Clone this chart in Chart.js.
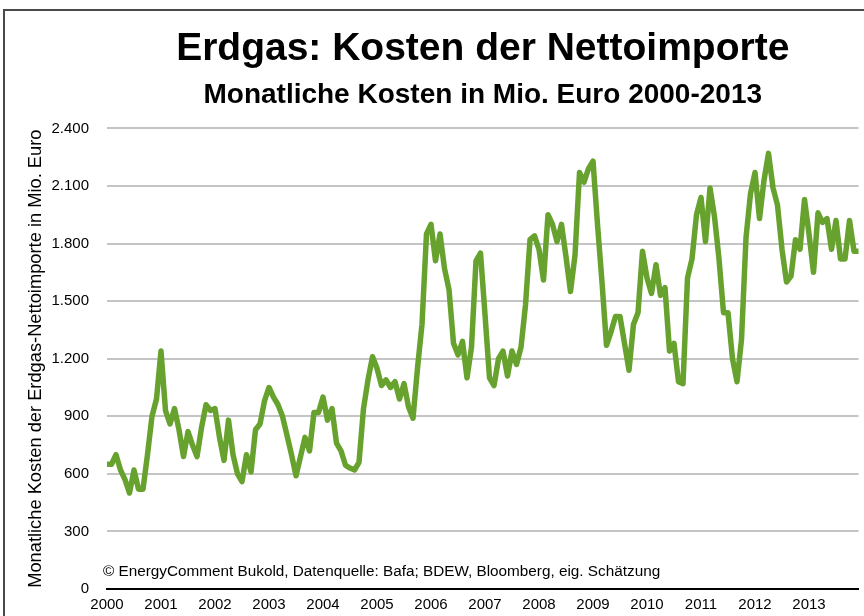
<!DOCTYPE html>
<html>
<head>
<meta charset="utf-8">
<script src="https://cdn.jsdelivr.net/npm/chart.js@4.4.1/dist/chart.umd.min.js"></script>
<style>
  html, body { margin: 0; padding: 0; background: #fff; }
  #wrap { position: relative; width: 864px; height: 616px; overflow: hidden; }
  #frame {
    position: absolute; left: 3px; top: 9px; width: 1000px; height: 1000px;
    border-top: 2px solid #4a4a4a; border-left: 2px solid #4a4a4a;
    pointer-events: none;
  }
</style>
</head>
<body>
<div id="wrap">
  <canvas id="chart" width="864" height="616"></canvas>
  <div id="frame"></div>
</div>
<script>
// Jahre (Achsenbeschriftung)
const years = ["2000", "2001", "2002", "2003", "2004", "2005", "2006",
  "2007", "2008", "2009", "2010", "2011", "2012", "2013"];

// Monatswerte in Mio. Euro, je Jahr Jan..Dez
const v2000 = [650, 650, 700, 620, 570, 500, 620, 520, 520, 700, 900, 990];
const v2001 = [1240, 930, 860, 940, 830, 690, 820, 750, 690, 840, 960, 930];
const v2002 = [940, 790, 670, 880, 700, 600, 560, 700, 610, 830, 860, 980];
const v2003 = [1050, 1000, 960, 900, 800, 700, 590, 690, 790, 720, 920, 920];
const v2004 = [1000, 880, 940, 760, 720, 645, 630, 620, 660, 940, 1090, 1210];
const v2005 = [1150, 1060, 1090, 1050, 1080, 990, 1070, 950, 890, 1150, 1380, 1850];
const v2006 = [1900, 1710, 1850, 1670, 1560, 1280, 1220, 1290, 1100, 1260, 1710, 1750];
const v2007 = [1430, 1100, 1060, 1200, 1240, 1110, 1240, 1170, 1260, 1480, 1820, 1840];
const v2008 = [1770, 1610, 1950, 1900, 1810, 1900, 1730, 1550, 1740, 2170, 2120, 2190];
const v2009 = [2230, 1900, 1600, 1270, 1340, 1420, 1420, 1280, 1140, 1380, 1440, 1760];
const v2010 = [1620, 1540, 1690, 1530, 1570, 1240, 1280, 1080, 1070, 1620, 1720, 1950];
const v2011 = [2040, 1810, 2090, 1940, 1720, 1440, 1440, 1200, 1080, 1300, 1830, 2060];
const v2012 = [2170, 1930, 2130, 2270, 2090, 2000, 1770, 1600, 1630, 1820, 1770, 2030];
const v2013 = [1850, 1650, 1960, 1910, 1930, 1770, 1920, 1720, 1720, 1920, 1760, 1760];

// y-Achse
const yTickValues = [0, 300, 600, 900, 1200, 1500, 1800, 2100, 2400];

const titleText = "Erdgas: Kosten der Nettoimporte";
const subtitleText = "Monatliche Kosten in Mio. Euro 2000-2013";
const yTitleText = "Monatliche Kosten der Erdgas-Nettoimporte in Mio. Euro";
const sourceNote = "\u00A9 EnergyComment Bukold, Datenquelle: Bafa; BDEW, Bloomberg, eig. Sch\u00E4tzung";

const FONT = "'Liberation Sans', Arial, Helvetica, sans-serif";

const yearly = [v2000, v2001, v2002, v2003, v2004, v2005, v2006,
  v2007, v2008, v2009, v2010, v2011, v2012, v2013];

// Kategorien: ein Eintrag pro Monat
const labels = [];
const values = [];
yearly.forEach((arr, i) => {
  arr.forEach((v, m) => {
    labels.push(years[i] + "-" + String(m + 1).padStart(2, "0"));
    values.push(v);
  });
});

const fmt = (v) => String(v).replace(/\B(?=(\d{3})+(?!\d))/g, ".");

// Quellenvermerk im Diagramm
const notePlugin = {
  id: "note",
  afterDatasetsDraw(chart) {
    const ctx = chart.ctx;
    ctx.save();
    ctx.font = "15.3px " + FONT;
    ctx.fillStyle = "#000";
    ctx.textBaseline = "middle";
    ctx.textAlign = "left";
    ctx.fillText(sourceNote, chart.chartArea.left - 4, chart.chartArea.bottom - 17);
    ctx.restore();
  },
};

new Chart(document.getElementById("chart"), {
  type: "line",
  data: {
    labels: labels,
    datasets: [{
      data: values,
      borderColor: "#67a22f",
      borderWidth: 5.5,
      borderJoinStyle: "round",
      pointRadius: 0,
      tension: 0,
      fill: false,
    }],
  },
  options: {
    responsive: false,
    animation: false,
    layout: { padding: { left: 0, right: 5.5, top: 0, bottom: 0 } },
    plugins: {
      legend: { display: false },
      tooltip: { enabled: false },
      title: {
        display: true,
        text: titleText,
        fullSize: false,
        color: "#000",
        font: { family: FONT, size: 39, weight: "bold" },
        padding: { top: 26, bottom: 3 },
      },
      subtitle: {
        display: true,
        text: subtitleText,
        fullSize: false,
        color: "#000",
        font: { family: FONT, size: 28, weight: "bold" },
        padding: { top: 3, bottom: 16 },
      },
    },
    scales: {
      x: {
        grid: { display: false, drawTicks: false },
        border: { display: true, color: "#000", width: 2 },
        ticks: {
          autoSkip: false,
          maxRotation: 0,
          padding: 7,
          color: "#000",
          font: { family: FONT, size: 15 },
          callback: (val, idx) => (idx % 12 === 0 ? years[idx / 12] : null),
        },
        afterFit: (s) => { s.height = 27; },
      },
      y: {
        min: 0,
        max: 2400,
        afterBuildTicks: (s) => { s.ticks = yTickValues.map((v) => ({ value: v })); },
        grid: {
          drawTicks: false,
          color: (c) => (c.tick && c.tick.value === 0 ? "#000" : "#c4c4c4"),
          lineWidth: 2,
        },
        border: { display: false },
        ticks: {
          padding: 18,
          color: "#000",
          font: { family: FONT, size: 15 },
          callback: (v) => fmt(v),
        },
        title: {
          display: true,
          text: yTitleText,
          color: "#000",
          font: { family: FONT, size: 18.3 },
          padding: { top: 25, bottom: 0 },
        },
        afterFit: (s) => { s.width = 107; },
      },
    },
  },
  plugins: [notePlugin],
});
</script>
</body>
</html>
